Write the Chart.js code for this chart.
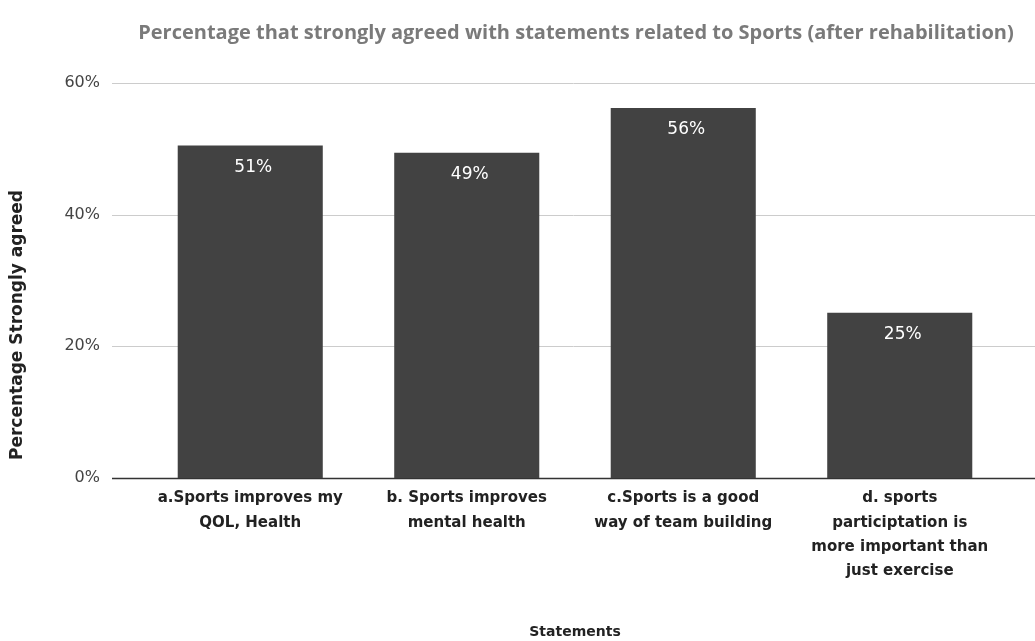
<!DOCTYPE html>
<html>
<head>
<meta charset="utf-8">
<script src="https://cdn.jsdelivr.net/npm/chart.js@4"></script>
<style>
  body { margin: 0; background: #fff; }
  #wrap { width: 1035px; height: 641px; }
</style>
</head>
<body>
<div id="wrap"><canvas id="sportsChart"></canvas></div>
<script>
const chartTitle = "Percentage that strongly agreed with statements related to Sports (after rehabilitation)";
const yTitle = "Percentage Strongly agreed";
const statements = [
  ["a.Sports improves my", "QOL, Health"],
  ["b. Sports improves", "mental health"],
  ["c.Sports is a good", "way of team building"],
  ["d. sports", "participtation is", "more important than", "just exercise"]
];
const strongAgree = [50.5, 49.4, 56.2, 25.1];
const yTicks = [0, 20, 40, 60];

// title and y title sit off-centre in the original, so draw them ourselves
const outerTitles = {
  id: "outerTitles",
  afterDraw(chart) {
    const ctx = chart.ctx;
    ctx.save();
    ctx.fillStyle = "#7a7a7a";
    ctx.font = "bold 20px 'Open Sans'";
    ctx.textAlign = "center";
    ctx.textBaseline = "middle";
    ctx.fillText(chartTitle, 576, 33);
    ctx.translate(18, 325);
    ctx.rotate(-Math.PI / 2);
    ctx.fillStyle = "#222222";
    ctx.font = "bold 17px 'DejaVu Sans'";
    ctx.fillText(yTitle, 0, 0);
    ctx.restore();
  }
};

// grid lines reach past the bars, like the original sheet chart
const wideGrid = {
  id: "wideGrid",
  beforeDatasetsDraw(chart) {
    const ctx = chart.ctx;
    const y = chart.scales.y;
    ctx.save();
    y.ticks.forEach(t => {
      const py = Math.round(y.getPixelForValue(t.value)) + 0.5;
      ctx.beginPath();
      ctx.strokeStyle = t.value === 0 ? "#333333" : "#cccccc";
      ctx.lineWidth = t.value === 0 ? 1.5 : 1;
      ctx.moveTo(112, py);
      ctx.lineTo(1035, py);
      ctx.stroke();
    });
    ctx.restore();
  }
};

const barLabels = {
  id: "barLabels",
  afterDatasetsDraw(chart) {
    const ctx = chart.ctx;
    const meta = chart.getDatasetMeta(0);
    ctx.save();
    ctx.fillStyle = "#ffffff";
    ctx.font = "17px 'DejaVu Sans'";
    ctx.textAlign = "center";
    ctx.textBaseline = "middle";
    meta.data.forEach((bar, i) => {
      ctx.fillText(Math.round(strongAgree[i]) + "%", bar.x + 3, bar.y + 22);
    });
    ctx.restore();
  }
};

new Chart(document.getElementById("sportsChart"), {
  type: "bar",
  data: {
    labels: statements,
    datasets: [{
      data: strongAgree,
      backgroundColor: "#424242",
      barPercentage: 0.67,
      categoryPercentage: 1
    }]
  },
  options: {
    responsive: true,
    maintainAspectRatio: false,
    animation: false,
    layout: { padding: { top: 83, left: 0, right: 27, bottom: 0 } },
    plugins: {
      legend: { display: false },
      tooltip: { enabled: false },
      title: { display: false }
    },
    scales: {
      x: {
        grid: { display: false },
        border: { display: false },
        ticks: {
          color: "#222222",
          font: { family: "'DejaVu Sans'", size: 15, weight: "bold", lineHeight: 1.63 },
          padding: 0,
          maxRotation: 0,
          autoSkip: false
        },
        title: {
          display: true,
          text: "Statements",
          color: "#222222",
          font: { family: "'DejaVu Sans'", size: 14, weight: "bold" },
          padding: { top: 0, bottom: 0 }
        },
        afterFit(scale) { scale.height = 163; }
      },
      y: {
        min: 0,
        max: 60,
        afterBuildTicks(scale) { scale.ticks = yTicks.map(v => ({ value: v })); },
        grid: { display: false },
        border: { display: false },
        ticks: {
          color: "#444444",
          font: { family: "'DejaVu Sans'", size: 16 },
          padding: 34,
          callback: v => v + "%"
        },
        afterFit(scale) { scale.width = 142; }
      }
    }
  },
  plugins: [wideGrid, barLabels, outerTitles]
});
</script>
</body>
</html>
